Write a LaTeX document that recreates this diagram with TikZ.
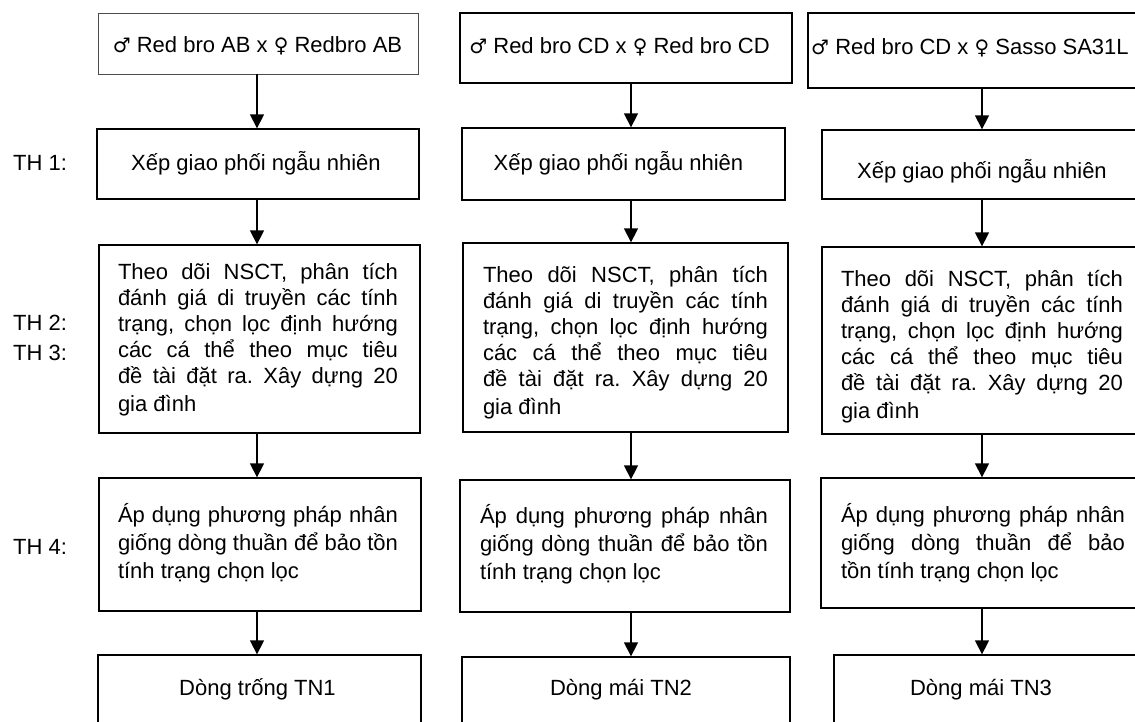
\documentclass[tikz,border=0pt]{standalone}
\usepackage{fontspec}
\setmainfont{Liberation Sans}
\newfontfamily\symfont{DejaVu Sans}
\usetikzlibrary{arrows.meta,fit}
\newcommand{\jln}[2]{\makebox[#1pt][s]{#2}}
\newcommand{\mle}{{\symfont\fontsize{20}{24}\selectfont ♂}}
\newcommand{\fml}{{\symfont\fontsize{20}{24}\selectfont ♀}}
\frenchspacing
\begin{document}
\begin{tikzpicture}[x=1pt,y=-1pt,
  box/.style={draw, line width=1.3pt, inner sep=0pt, rectangle},
  topbox/.style={draw=black!70, line width=0.9pt, inner sep=0pt, rectangle},
  txt/.style={font=\fontsize{22}{26}\selectfont, inner sep=0pt, align=left},
  txtd/.style={font=\fontsize{22}{28}\selectfont, inner sep=0pt, align=left},
  lbl/.style={font=\fontsize{22}{26}\selectfont, inner sep=0pt, anchor=west},
  arr/.style={line width=1.3pt, -{Triangle[width=14pt,length=14pt]}}
]
\useasboundingbox (0,0) rectangle (1135,721);
\clip (0,0) rectangle (1135,721);
\fill[white] (0,0) rectangle (1135,721);

% column axes
\coordinate (c1) at (257,0);
\coordinate (c2) at (631,0);
\coordinate (c3) at (982,0);

% column 1
\node[topbox, fit={(98,13) (418,74)}] (A1) {};
\node[box, fit={(97,129) (419,199)}] (B1) {};
\node[box, fit={(99,245) (420,433)}] (C1) {};
\node[box, fit={(99,478) (421,611)}] (D1) {};
\node[box, fit={(98,655) (421,760)}] (E1) {};
% column 2
\node[box, fit={(460,13) (792,83)}] (A2) {};
\node[box, fit={(462,128) (785,200)}] (B2) {};
\node[box, fit={(463,243) (788,432)}] (C2) {};
\node[box, fit={(460,480) (790,612)}] (D2) {};
\node[box, fit={(462,657) (790,760)}] (E2) {};
% column 3
\node[box, fit={(808,13) (1145,88)}] (A3) {};
\node[box, fit={(822,130) (1145,199)}] (B3) {};
\node[box, fit={(822,247) (1145,434)}] (C3) {};
\node[box, fit={(821,478) (1145,608)}] (D3) {};
\node[box, fit={(834,655) (1145,760)}] (E3) {};

% texts
\node[txt] (tA1) at (257.5,46) {\mle{} Red bro AB x \fml{} Redbro AB};
\node[txt] (tA2) at (619.5,47) {\mle{} Red bro CD x \fml{} Red bro CD};
\node[txt, anchor=west] (tA3) at (811,48) {\mle{} Red bro CD x \fml{} Sasso SA31L};

\node[txt] (tB1) at (256,163) {Xếp giao phối ngẫu nhiên};
\node[txt] (tB2) at (618.5,163) {Xếp giao phối ngẫu nhiên};
\node[txt] (tB3) at (982,171) {Xếp giao phối ngẫu nhiên};

\node[txt] (tC1) at (258,340) {\jln{280}{Theo dõi NSCT, phân tích}\\ \jln{280}{đánh giá di truyền các tính}\\ \jln{280}{trạng, chọn lọc định hướng}\\ \jln{280}{các cá thể theo mục tiêu}\\ \jln{280}{đề tài đặt ra. Xây dựng 20}\\[2pt] gia đình};
\node[txt] (tC2) at (625.5,343) {\jln{285}{Theo dõi NSCT, phân tích}\\ \jln{285}{đánh giá di truyền các tính}\\ \jln{285}{trạng, chọn lọc định hướng}\\ \jln{285}{các cá thể theo mục tiêu}\\ \jln{285}{đề tài đặt ra. Xây dựng 20}\\[2pt] gia đình};
\node[txt] (tC3) at (982,347) {\jln{282}{Theo dõi NSCT, phân tích}\\ \jln{282}{đánh giá di truyền các tính}\\ \jln{282}{trạng, chọn lọc định hướng}\\ \jln{282}{các cá thể theo mục tiêu}\\ \jln{282}{đề tài đặt ra. Xây dựng 20}\\[2pt] gia đình};

\node[txtd] (tD1) at (258,543) {\jln{280}{Áp dụng phương pháp nhân}\\ \jln{280}{giống dòng thuần để bảo tồn}\\ tính trạng chọn lọc};
\node[txtd] (tD2) at (624,544) {\jln{288}{Áp dụng phương pháp nhân}\\ \jln{288}{giống dòng thuần để bảo tồn}\\ tính trạng chọn lọc};
\node[txtd] (tD3) at (983,543) {\jln{284}{Áp dụng phương pháp nhân}\\ \jln{284}{giống dòng thuần để bảo}\\ tồn tính trạng chọn lọc};

\node[txt] (tE1) at (257.5,689) {Dòng trống TN1};
\node[txt] (tE2) at (621,690) {Dòng mái TN2};
\node[txt] (tE3) at (981,690) {Dòng mái TN3};

% row labels
\node[lbl] (th1) at (13,163) {TH 1:};
\node[lbl] (th2) at (13,323) {TH 2:};
\node[lbl] (th3) at (13,353) {TH 3:};
\node[lbl] (th4) at (13,547) {TH 4:};

% arrows
\foreach \c/\n in {c1/1,c2/2,c3/3}{
  \draw[arr] (A\n.south -| \c) -- (B\n.north -| \c);
  \draw[arr] (B\n.south -| \c) -- (C\n.north -| \c);
  \draw[arr] (C\n.south -| \c) -- (D\n.north -| \c);
  \draw[arr] (D\n.south -| \c) -- (E\n.north -| \c);
}
\end{tikzpicture}
\end{document}
